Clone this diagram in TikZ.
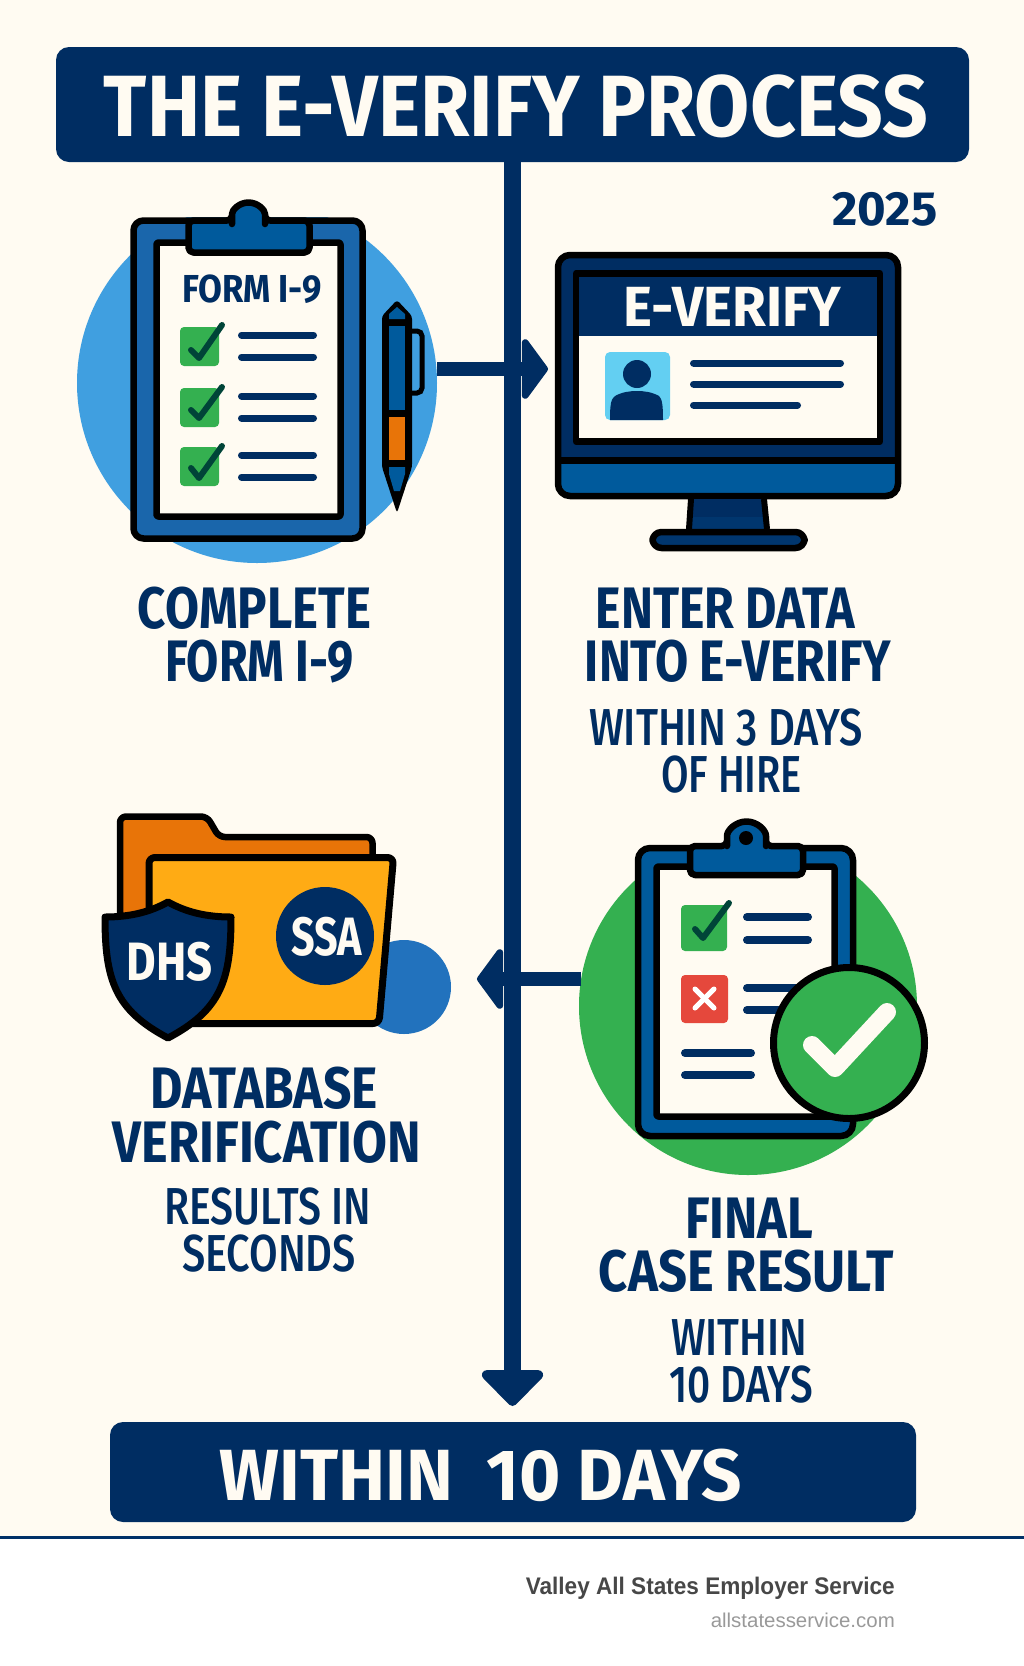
\documentclass[tikz,border=0pt]{standalone}
\usepackage{fontspec}
\usepackage{graphicx}
\usepackage{xcolor}
\setmainfont{Fira Sans}
\newfontfamily\medfont{Fira Sans Medium}
\newfontfamily\footfont{Liberation Sans}
\usetikzlibrary{arrows.meta}
\definecolor{navy}{HTML}{002D62}
\definecolor{midblue}{HTML}{005A9C}
\definecolor{boardblue}{HTML}{1A66AB}
\definecolor{skyblue}{HTML}{409FE0}
\definecolor{dotblue}{HTML}{2272BD}
\definecolor{photoblue}{HTML}{63CFF2}
\definecolor{cream}{HTML}{FFFBF2}
\definecolor{okgreen}{HTML}{34B050}
\definecolor{darktick}{HTML}{004438}
\definecolor{badred}{HTML}{E5483C}
\definecolor{penorange}{HTML}{E87408}
\definecolor{folderyellow}{HTML}{FFAB14}
% stretch a text to a given width, height stays
\newcommand{\fitw}[2]{\resizebox{#1pt}{\height}{#2}}
\tikzset{
    bar/.style={fill=navy, rounded corners=13pt, inner sep=0pt},
    heading/.style={text=cream, inner sep=0pt, font=\fontsize{87}{87}\selectfont\bfseries},
    badgetext/.style={text=cream, inner sep=0pt, font=\fontsize{54}{54}\selectfont\bfseries},
    capt/.style={text=navy, inner sep=0pt, font=\fontsize{58.5}{59}\selectfont\bfseries},
    subcapt/.style={text=navy, inner sep=0pt, font=\fontsize{52}{52}\selectfont\medfont},
    disc/.style={circle, inner sep=0pt},
    outline/.style={draw=black, line width=6.5pt, line join=round},
    textline/.style={draw=navy, line width=7pt, line cap=round},
    tick/.style={draw=darktick, line width=6pt, line cap=round, line join=round},
    spine/.style={draw=navy, line width=17pt},
    link/.style={draw=navy, line width=14pt}
}

\begin{document}
\begin{tikzpicture}[x=1pt, y=-1pt]
        \useasboundingbox (0, 0) rectangle (1024, 1666);
        % Page
        \fill [white] (0, 0) rectangle (1024, 1666);
        \fill [cream] (0, 0) rectangle (1024, 1537);
        \fill [navy!90!midblue] (0, 1535.5) rectangle (1024, 1538.5);
        % Discs behind the icons, their tops cut off at the boards
        \node [disc, fill=skyblue, minimum size=360pt] (formdisc) at (257, 383) {};
        \fill [cream] (130, 195) rectangle (366, 217);
        \node [disc, fill=okgreen, minimum size=338pt] (resultdisc) at (748, 1006) {};
        \fill [cream] (635, 825) rectangle (856, 845);
        \node [disc, fill=dotblue, minimum size=94pt] (dbdot) at (404, 987) {};
        % Title and end bar
        \node [bar, minimum width=913pt, minimum height=115pt] (titlebar) at (512.5, 104.5) {};
        \node [heading] (titletext) at (516, 106) {\fitw{824}{THE E-VERIFY PROCESS}};
        \node [bar, minimum width=806pt, minimum height=100pt] (endbar) at (513, 1472) {};
        \node [heading, font=\fontsize{72.5}{73}\selectfont\bfseries] (endtext) at (481, 1475) {\fitw{522}{WITHIN~~10 DAYS}};
        \node [text=navy, inner sep=0pt, font=\fontsize{48}{48}\selectfont\bfseries] (year) at (885, 209) {\fitw{105}{2025}};
        % Connectors
        \coordinate (spinetip) at (512.5, 1406);
        \coordinate (formtip) at (548, 369);
        \coordinate (resulttip) at (477, 979);
        \draw [spine, -{Triangle[width=72pt, length=38pt, round]}] (titlebar.south) -- (spinetip);
        \draw [link, -{Triangle[width=72pt, length=27pt, round]}] (formdisc.east |- formtip) -- (formtip);
        \draw [link, -{Triangle[width=72pt, length=27pt, round]}] (resulttip -| resultdisc.170) -- (resulttip);

        % Clipboard with Form I-9
        \draw [outline, fill=boardblue, rounded corners=10pt] (133.5, 220.5) rectangle (362.5, 538.5);
        \draw [outline, fill=cream, rounded corners=2pt] (156.5, 242.5) rectangle (340.5, 516.5);
        \draw [outline, fill=midblue, rounded corners=5pt] (188.5, 220.5) -- (232, 220.5) -- (232, 219) arc (180:360:16.5) -- (265, 220.5) -- (309.5, 220.5) -- (309.5, 252.5) -- (188.5, 252.5) -- cycle;
        \node [text=navy, inner sep=0pt, font=\fontsize{39}{39}\selectfont\bfseries] (formtitle) at (252, 289.5) {\fitw{140}{FORM I-9}};
        \foreach \y/\a/\b/\c/\p/\q in {327/350/358/325/335/357, 388/410/418/387/396/418, 447/468/478/446/455/477} {
            \fill [okgreen, rounded corners=4pt] (180, \y) rectangle (219, \y + 39);
            \draw [tick] (191, \a) -- (199, \b) -- (222, \c);
            \draw [textline] (241.5, \p) -- (313.5, \p);
            \draw [textline] (241.5, \q) -- (313.5, \q);
        }
        % Pen
        \draw [line width=5pt, draw=black, rounded corners=5pt] (409, 331) -- (422, 331) -- (422, 393) -- (409, 393);
        \fill [black, rounded corners=3pt] (397, 300) -- (412, 316) -- (412, 467) -- (397, 513) -- (382, 467) -- (382, 316) -- cycle;
        \fill [midblue] (389, 319) -- (389, 314) -- (397, 307) -- (405, 314) -- (405, 319) -- cycle;
        \fill [midblue] (389, 326) rectangle (405, 410);
        \fill [penorange] (389, 417) rectangle (405, 460);
        \fill [midblue] (389, 467) -- (405, 467) -- (405, 474) -- (400, 491) -- (394, 491) -- (389, 474) -- cycle;

        % Monitor
        \begin{scope}
            \clip [rounded corners=12pt] (558, 255) rectangle (898, 496);
            \fill [navy] (558, 255) rectangle (898, 460);
            \fill [midblue] (558, 460) rectangle (898, 496);
        \end{scope}
        \draw [outline, rounded corners=12pt] (558, 255) rectangle (898, 496);
        \fill [black] (558, 457) rectangle (898, 464);
        \draw [outline, fill=cream] (576, 273.5) rectangle (880, 441.5);
        \fill [navy] (579, 277) rectangle (877, 336);
        \node [text=cream, inner sep=0pt, font=\fontsize{56.6}{57}\selectfont\bfseries] (screentitle) at (732.5, 306.5) {\fitw{218}{E-VERIFY}};
        \fill [photoblue, rounded corners=5pt] (605, 352) rectangle (670, 420);
        \fill [navy] (637, 374) circle (14);
        \fill [navy] (610, 420) .. controls (610, 404) and (611, 399) .. (615, 396) .. controls (622, 392) and (630, 391) .. (637, 391) .. controls (644, 391) and (652, 392) .. (659, 396) .. controls (662, 399) and (663, 404) .. (663, 420) -- cycle;
        \draw [textline] (693.5, 363) -- (840.5, 363);
        \draw [textline] (693.5, 384) -- (840.5, 384);
        \draw [textline] (693.5, 405) -- (797.5, 405);
        % Monitor stand
        \fill [navy] (691, 499) -- (764, 499) -- (767, 529) -- (689, 529) -- cycle;
        \fill [navy!80!midblue] (690, 517) -- (766, 517) -- (767, 529) -- (689, 529) -- cycle;
        \draw [black, line width=6pt] (691, 499) -- (689, 529);
        \draw [black, line width=6pt] (764, 499) -- (767, 529);
        \draw [outline, fill=navy!80!midblue, rounded corners=9pt] (652.5, 548) -- (652.5, 532) -- (804.5, 532) -- (804.5, 548) -- cycle;

        % Folders
        \draw [outline, fill=penorange, rounded corners=6pt] (120, 930) -- (120, 816.5) -- (207, 816.5) -- (219, 837) -- (372.5, 837) -- (372.5, 930) -- cycle;
        \draw [outline, line width=7pt, fill=folderyellow, rounded corners=6pt] (149, 1023.5) -- (149, 857.5) -- (393.5, 857.5) -- (379, 1023.5) -- cycle;
        \node [disc, fill=navy, minimum size=98pt] (ssadisc) at (325, 936) {};
        \node [badgetext] (ssatext) at (326.5, 936.5) {\fitw{71}{SSA}};
        % Shield
        \draw [outline, line width=7pt, fill=navy] (168, 902) .. controls (150, 912) and (130, 917) .. (105, 917) .. controls (105, 980) and (115, 1010) .. (168, 1038) .. controls (221, 1010) and (231, 980) .. (231, 917) .. controls (206, 917) and (186, 912) .. (168, 902) -- cycle;
        \node [badgetext] (dhstext) at (170, 961.5) {\fitw{86}{DHS}};

        % Clipboard with result
        \draw [outline, fill=midblue, rounded corners=12pt] (638, 848) rectangle (853, 1136);
        \draw [outline, fill=cream, rounded corners=2pt] (656.5, 866.5) rectangle (834.5, 1116.5);
        \draw [outline, fill=midblue, rounded corners=5pt] (690, 846) -- (727, 846) -- (727, 841) arc (180:360:19.5) -- (766, 846) -- (803, 846) -- (803, 875) -- (690, 875) -- cycle;
        \fill [black] (746, 838) circle (7);
        \fill [okgreen, rounded corners=4pt] (681, 905) rectangle (727, 951);
        \draw [tick] (695, 929) -- (703, 938) -- (729, 903);
        \fill [badred, rounded corners=4pt] (681, 975) rectangle (728, 1023);
        \draw [white, line width=5pt, line cap=round] (695, 989) -- (714, 1008);
        \draw [white, line width=5pt, line cap=round] (714, 989) -- (695, 1008);
        \foreach \y in {917, 940} {
            \draw [textline, line width=8pt] (747, \y) -- (808, \y);
        }
        \foreach \y in {988, 1010} {
            \draw [textline, line width=8pt] (747, \y) -- (800, \y);
        }
        \foreach \y in {1053, 1075} {
            \draw [textline, line width=8pt] (685, \y) -- (751, \y);
        }
        % Check badge
        \node [disc, fill=okgreen, draw=black, line width=7pt, minimum size=151pt] (checkbadge) at (849, 1043) {};
        \draw [draw=cream, line width=18pt, line cap=round, line join=round] (812, 1045) -- (835, 1068) -- (887, 1012);

        % Captions
        \node [capt] (completeA) at (254.5, 608) {\fitw{233}{COMPLETE}};
        \node [capt] (completeB) at (259.5, 661.5) {\fitw{189}{FORM I-9}};
        \node [capt] (enterA) at (725.5, 608) {\fitw{259}{ENTER DATA}};
        \node [capt] (enterB) at (738, 661.5) {\fitw{306}{INTO E-VERIFY}};
        \node [subcapt] (withinA) at (726, 727.5) {\fitw{274}{WITHIN 3 DAYS}};
        \node [subcapt] (withinB) at (731.5, 774.5) {\fitw{141}{OF HIRE}};
        \node [capt] (databaseA) at (264.5, 1088.5) {\fitw{227}{DATABASE}};
        \node [capt] (databaseB) at (267, 1142.5) {\fitw{308}{VERIFICATION}};
        \node [subcapt] (secondsA) at (267.5, 1206.5) {\fitw{207}{RESULTS IN}};
        \node [subcapt] (secondsB) at (269, 1254) {\fitw{174}{SECONDS}};
        \node [capt] (finalA) at (749, 1218.5) {\fitw{128}{FINAL}};
        \node [capt] (finalB) at (746.5, 1271.5) {\fitw{295}{CASE RESULT}};
        \node [subcapt] (daysA) at (739, 1338) {\fitw{136}{WITHIN}};
        \node [subcapt] (daysB) at (741, 1385) {\fitw{144}{10 DAYS}};

        % Footer
        \node [anchor=base east, inner sep=0pt, text=black!72, font=\footfont\fontsize{24}{24}\selectfont\bfseries] (company) at (895, 1594) {\fitw{369}{Valley All States Employer Service}};
        \node [anchor=base east, inner sep=0pt, text=black!40, font=\footfont\fontsize{20}{20}\selectfont] (website) at (895, 1627) {\fitw{184}{allstatesservice.com}};
    \end{tikzpicture}
\end{document}
